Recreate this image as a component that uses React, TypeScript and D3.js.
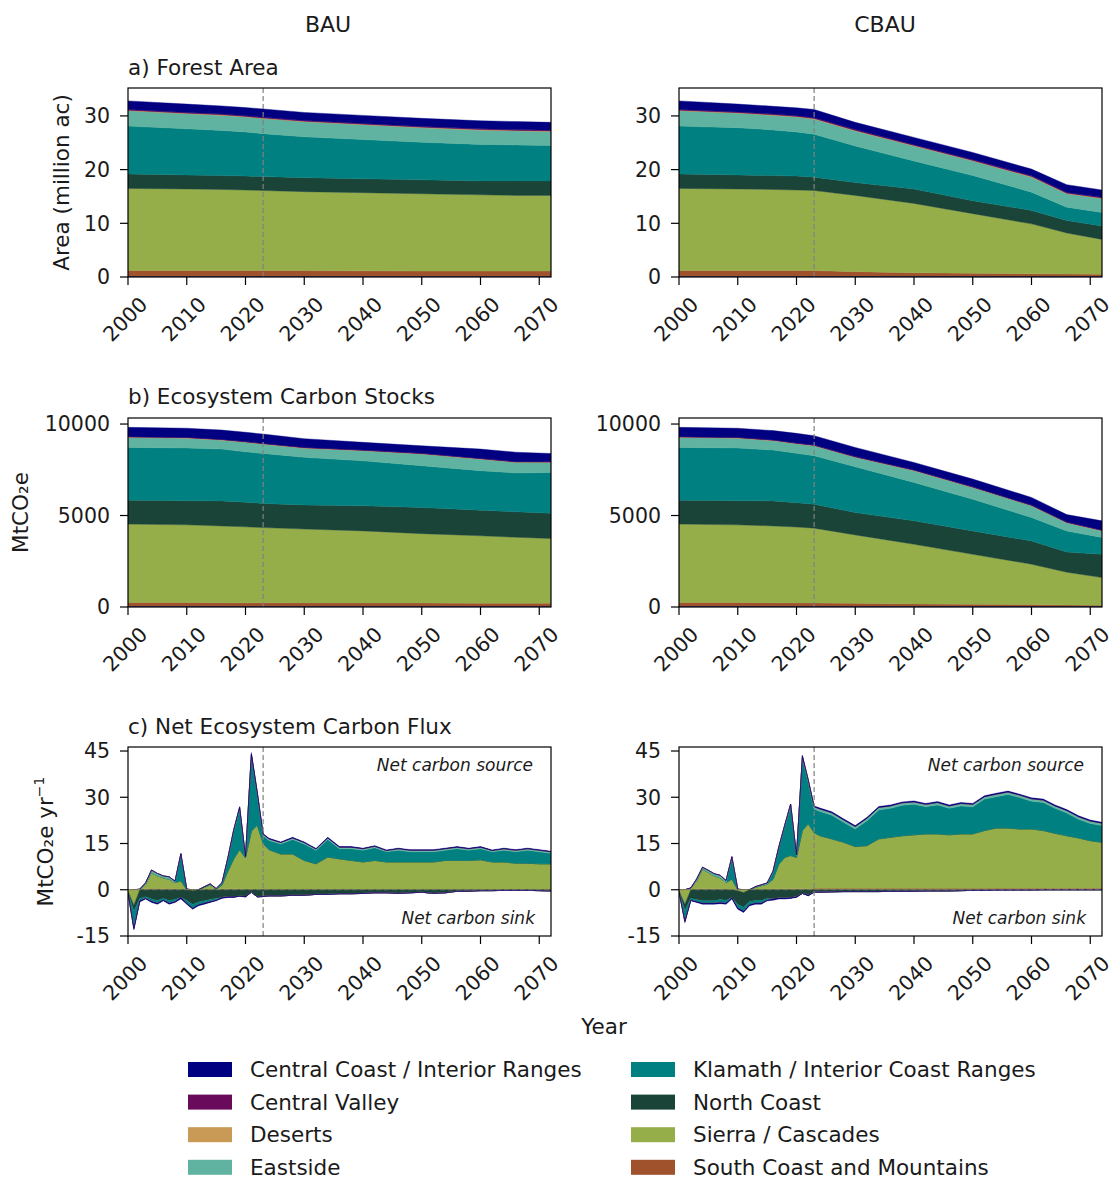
import * as d3 from "d3";

const regions = [
  "Central Coast / Interior Ranges",
  "Central Valley",
  "Deserts",
  "Eastside",
  "Klamath / Interior Coast Ranges",
  "North Coast",
  "Sierra / Cascades",
  "South Coast and Mountains",
];
const regionColors = ["#000080", "#6a0a5a", "#c89a55", "#5fb3a0", "#008080", "#1b4439", "#96ae4a", "#a0522d"];

const stockYears = [2000, 2010, 2016, 2020, 2023, 2030, 2040, 2050, 2060, 2066, 2072];
const fluxYears = [
  2000, 2001, 2002, 2003, 2004, 2005, 2006, 2007, 2008, 2009, 2010, 2011, 2012, 2013, 2014, 2015, 2016,
  2017, 2018, 2019, 2020, 2021, 2022, 2023, 2024, 2026, 2028, 2030, 2032, 2034, 2036, 2038, 2040, 2042,
  2044, 2046, 2048, 2050, 2052, 2054, 2056, 2058, 2060, 2062, 2064, 2066, 2068, 2070, 2072,
];
const xTicks = [2000, 2010, 2020, 2030, 2040, 2050, 2060, 2070];
const scenarioStart = 2023;

// a) forest area (million ac), BAU
const areaBauCentralCoast = [1.6, 1.55, 1.5, 1.5, 1.55, 1.5, 1.5, 1.5, 1.5, 1.5, 1.45];
const areaBauCentralValley = [0.15, 0.15, 0.15, 0.15, 0.15, 0.15, 0.15, 0.15, 0.15, 0.15, 0.15];
const areaBauDeserts = [0.1, 0.1, 0.1, 0.1, 0.1, 0.1, 0.1, 0.1, 0.1, 0.1, 0.1];
const areaBauEastside = [2.85, 2.8, 2.8, 2.8, 2.8, 2.8, 2.75, 2.7, 2.65, 2.6, 2.6];
const areaBauKlamath = [8.9, 8.6, 8.4, 8.2, 8.0, 7.6, 7.3, 7.0, 6.8, 6.7, 6.6];
const areaBauNorthCoast = [2.7, 2.6, 2.6, 2.6, 2.6, 2.6, 2.6, 2.6, 2.6, 2.7, 2.7];
const areaBauSierra = [15.3, 15.2, 15.1, 15.0, 14.9, 14.7, 14.55, 14.4, 14.2, 14.1, 14.1];
const areaBauSouthCoast = [1.2, 1.2, 1.2, 1.2, 1.2, 1.2, 1.15, 1.1, 1.1, 1.1, 1.1];

// a) forest area (million ac), CBAU
const areaCbauCentralCoast = [1.6, 1.45, 1.45, 1.45, 1.55, 1.35, 1.35, 1.35, 1.25, 1.45, 1.35];
const areaCbauCentralValley = [0.15, 0.15, 0.15, 0.15, 0.15, 0.15, 0.15, 0.15, 0.15, 0.15, 0.15];
const areaCbauDeserts = [0.1, 0.1, 0.1, 0.1, 0.1, 0.1, 0.1, 0.1, 0.1, 0.1, 0.1];
const areaCbauEastside = [2.85, 2.7, 2.7, 2.8, 2.8, 2.8, 2.8, 2.7, 2.8, 2.5, 2.6];
const areaCbauKlamath = [8.9, 8.8, 8.5, 8.2, 8.0, 6.8, 5.2, 4.7, 3.4, 2.5, 2.5];
const areaCbauNorthCoast = [2.7, 2.6, 2.6, 2.6, 2.5, 2.4, 2.7, 2.4, 2.5, 2.3, 2.5];
const areaCbauSierra = [15.3, 15.2, 15.1, 15.0, 14.9, 14.2, 12.9, 11.1, 9.3, 7.65, 6.5];
const areaCbauSouthCoast = [1.2, 1.2, 1.2, 1.2, 1.2, 1.0, 0.8, 0.7, 0.6, 0.55, 0.5];

// b) ecosystem carbon stocks (MtCO2e), BAU
const stockBauCentralCoast = [510, 500, 510, 510, 510, 480, 420, 410, 510, 515, 450];
const stockBauCentralValley = [20, 20, 20, 20, 20, 20, 20, 20, 20, 20, 20];
const stockBauDeserts = [20, 20, 20, 20, 20, 20, 20, 20, 20, 20, 20];
const stockBauEastside = [550, 540, 490, 520, 510, 500, 550, 640, 630, 580, 550];
const stockBauKlamath = [2880, 2880, 2830, 2750, 2730, 2600, 2460, 2280, 2160, 2120, 2220];
const stockBauNorthCoast = [1310, 1320, 1370, 1350, 1320, 1320, 1370, 1430, 1400, 1390, 1390];
const stockBauSierra = [4290, 4250, 4195, 4150, 4110, 4035, 3940, 3795, 3680, 3610, 3540];
const stockBauSouthCoast = [240, 240, 235, 230, 230, 225, 220, 215, 210, 205, 200];

// b) ecosystem carbon stocks (MtCO2e), CBAU
const stockCbauCentralCoast = [510, 500, 510, 530, 510, 500, 410, 420, 420, 410, 510];
const stockCbauCentralValley = [20, 20, 20, 20, 20, 20, 20, 20, 20, 20, 20];
const stockCbauDeserts = [20, 20, 20, 20, 20, 20, 20, 20, 20, 20, 20];
const stockCbauEastside = [550, 540, 510, 520, 540, 520, 640, 640, 640, 450, 360];
const stockCbauKlamath = [2880, 2880, 2780, 2700, 2650, 2500, 2100, 1730, 1280, 1150, 920];
const stockCbauNorthCoast = [1310, 1320, 1370, 1330, 1310, 1220, 1280, 1280, 1270, 1100, 1270];
const stockCbauSierra = [4290, 4250, 4195, 4145, 4090, 3740, 3260, 2730, 2210, 1790, 1510];
const stockCbauSouthCoast = [240, 240, 235, 225, 220, 200, 170, 150, 130, 110, 100];

// c) net ecosystem carbon flux (MtCO2e / yr), BAU
const fluxBauCentralCoast = [
  -0.1, -0.5, -0.4, -0.2, -0.3, -0.3, -0.2, -0.3, -0.2, -0.5, -0.3, -0.3, -0.3, -0.3, -0.2, -0.2, -0.3,
  -0.2, -0.2, 0.3, -0.2, 0.6, 0.3, 0.2, 0.2, 0.2, 0.2, 0.2, 0.2, 0.2, 0.2, 0.2, 0.2, 0.2, 0.2, 0.2, 0.2,
  0.2, 0.2, 0.2, 0.2, 0.2, 0.2, 0.2, 0.2, 0.2, 0.2, 0.2, 0.2,
];
const fluxBauCentralValley = [
  0, 0, 0, 0, 0, 0, 0, 0, 0, 0, 0, 0, 0, 0, 0, 0, 0, 0, 0, 0, 0, 0, 0, 0, 0, 0, 0, 0, 0, 0, 0, 0, 0, 0, 0,
  0, 0, 0, 0, 0, 0, 0, 0, 0, 0, 0, 0, 0, 0,
];
const fluxBauDeserts = [
  0, 0, 0, 0, 0, 0, 0, 0, 0, 0, 0, 0, 0, 0, 0, 0, 0, 0, 0, 0, 0, 0, 0, 0, 0, 0, 0, 0, 0, 0, 0, 0, 0, 0, 0,
  0, 0, 0, 0, 0, 0, 0, 0, 0, 0, 0, 0, 0, 0,
];
const fluxBauEastside = [
  0, 0, 0.2, 0.5, 0.8, 0.8, 0.6, 0.8, 0.5, 0.3, 0.2, 0, 0, 0.2, 0.3, 0.2, 0.3, 0.4, 0.5, 0.5, 0.3, 0.3,
  0.5, 0.5, 0.5, 0.5, 0.5, 0.5, 0.4, 0.5, 0.5, 0.5, 0.5, 0.5, 0.4, 0.5, 0.5, 0.5, 0.5, 0.5, 0.5, 0.5, 0.5,
  0.4, 0.5, 0.5, 0.5, 0.5, 0.5,
];
const fluxBauKlamath = [
  -0.2, -5.5, -0.8, -0.5, -0.8, -0.9, -0.6, -0.9, -0.7, 8.5, -0.9, -1.2, -0.9, -0.8, -0.7, -0.6, 0.5, 4,
  9, 13.2, 0.2, 24.6, 10, 2.5, 3, 3.2, 4.7, 5.3, 4.4, 5.7, 3.3, 3.8, 3.8, 4.1, 3.3, 3.8, 3.3, 3.3, 3.3,
  3.3, 3.8, 3.3, 3.6, 3.3, 3.8, 3.7, 4.2, 3.9, 3.4,
];
const fluxBauNorthCoast = [
  -0.3, -2, -2.8, -2.3, -3, -3.5, -2.8, -3.5, -3.2, -2.5, -3.5, -4.5, -4, -3.6, -3.2, -2.8, -2.5, -2.3,
  -2.3, -2.1, -2.2, -0.8, -2.3, -2.2, -2, -2, -1.8, -1.8, -1.5, -1.5, -1.3, -1.3, -1.2, -1, -1, -1.2, -1,
  -0.8, -1.2, -1, -0.5, -0.5, -0.3, -0.3, -0.2, -0.2, -0.2, -0.3, -0.4,
];
const fluxBauSierra = [
  -0.5, -5, 0, 1.5, 5.2, 4.1, 3.6, 3.0, 2.0, 2.9, 0, -0.3, 0, 0.7, 1.5, 0.1, 1.2, 5.7, 9.7, 12.7, 10.1,
  18.7, 20.8, 14.9, 12.9, 11.5, 11.5, 9.4, 8.3, 10.5, 9.9, 9.4, 8.9, 9.4, 8.9, 8.9, 8.9, 8.9, 8.9, 9.4,
  9.4, 9.4, 9.6, 8.9, 8.9, 8.5, 8.5, 8.3, 8.3,
];
const fluxBauSouthCoast = [
  0, 0, 0, 0.3, 0.4, 0.4, 0.3, 0.4, 0.3, 0, 0, 0, 0, 0.1, 0.1, 0.1, 0.3, 0.3, 0.3, 0.3, 0.2, 0.3, 0.2,
  0.1, 0.1, 0.1, 0.1, 0.1, 0.1, 0.1, 0.1, 0.1, 0.1, 0.1, 0.1, 0.1, 0.1, 0.1, 0.1, 0.1, 0.1, 0.1, 0.1, 0.1,
  0.1, 0.1, 0.1, 0.1, 0.1,
];

// c) net ecosystem carbon flux (MtCO2e / yr), CBAU
const fluxCbauCentralCoast = [
  0, -0.5, -0.2, -0.2, -0.3, -0.3, -0.3, -0.3, -0.3, -0.4, -0.3, -0.4, -0.3, -0.3, -0.3, -0.2, -0.4, -0.3,
  -0.3, -0.2, -0.2, 0.5, -0.2, 0.3, 0.3, 0.3, 0.3, 0.3, 0.3, 0.3, 0.3, 0.3, 0.3, 0.3, 0.3, 0.3, 0.3, 0.3,
  0.3, 0.3, 0.3, 0.3, 0.3, 0.3, 0.3, 0.3, 0.3, 0.3, 0.3,
];
const fluxCbauCentralValley = [
  0, 0, 0, 0, 0, 0, 0, 0, 0, 0, 0, 0, 0, 0, 0, 0, 0, 0, 0, 0, 0, 0, 0, 0, 0, 0, 0, 0, 0, 0, 0, 0, 0, 0, 0,
  0, 0, 0, 0, 0, 0, 0, 0, 0, 0, 0, 0, 0, 0,
];
const fluxCbauDeserts = [
  0, 0, 0, 0, 0, 0, 0, 0, 0, 0, 0, 0, 0, 0, 0, 0, 0, 0, 0, 0, 0, 0, 0, 0, 0, 0, 0, 0, 0, 0, 0, 0, 0, 0, 0,
  0, 0, 0, 0, 0, 0, 0, 0, 0, 0, 0, 0, 0, 0,
];
const fluxCbauEastside = [
  0, 0, 0.1, 0.6, 0.6, 0.7, 0.7, 0.8, 0.7, 0.5, 0.2, 0, 0, 0.2, 0.3, 0.4, 0.4, 0.4, 0.5, 0.6, 0.3, 0.5,
  0.7, 0.8, 0.8, 0.8, 0.8, 0.8, 0.8, 0.8, 0.8, 0.8, 0.8, 0.8, 0.8, 0.8, 0.8, 0.8, 0.8, 0.8, 0.8, 0.8, 0.8,
  0.8, 0.8, 0.8, 0.8, 0.8, 0.8,
];
const fluxCbauKlamath = [
  -0.1, -3.5, -0.6, -0.7, -0.8, -0.8, -0.8, -1, -1, 6.8, -1.2, -1.3, -1.1, -0.9, -0.9, -0.6, 2.2, 5.3, 10,
  16.1, 0.5, 23.5, 13.5, 7.6, 7.9, 7.7, 6.5, 5.7, 8.1, 9.4, 9.4, 9.9, 9.9, 8.8, 9.4, 8.6, 9.1, 8.8, 10.2,
  10.2, 10.9, 10.2, 9, 9.1, 8.1, 7.4, 6.1, 5.6, 5.4,
];
const fluxCbauNorthCoast = [
  -0.2, -2, -2.8, -3.2, -3.6, -3.6, -3.6, -3.2, -3.4, -2.6, -4.5, -4.8, -3.8, -3.5, -3.5, -2.8, -3, -2.7,
  -2.7, -2.6, -2.3, -1.2, -1.8, -0.8, -0.8, -0.7, -0.6, -0.6, -0.6, -0.6, -0.5, -0.5, -0.5, -0.4, -0.4,
  -0.4, -0.3, -0.2, -0.2, -0.1, -0.1, -0.1, -0.1, 0, 0, 0, 0, 0, 0,
];
const fluxCbauSierra = [
  -0.3, -4.7, 0.5, 2.6, 6.4, 5.3, 4.2, 3.6, 2.1, 3.4, -0.3, -0.9, 0, 0.7, 1.2, 1.6, 3.1, 8.0, 10.2, 10.8,
  10.2, 18.9, 21.1, 18, 17, 16, 14.9, 13.5, 13.8, 16, 16.5, 17, 17.3, 17.6, 17.6, 17.3, 17.6, 17.6, 18.7,
  19.5, 19.5, 19.2, 19.2, 18.7, 17.8, 17, 16.3, 15.4, 14.9,
];
const fluxCbauSouthCoast = [
  0, 0, 0, 0.3, 0.3, 0.3, 0.3, 0.3, 0.2, 0, 0, 0, 0, 0.1, 0.1, 0.2, 0.3, 0.3, 0.3, 0.3, 0.3, 0.3, 0.3,
  0.5, 0.5, 0.5, 0.5, 0.5, 0.5, 0.5, 0.5, 0.5, 0.5, 0.5, 0.5, 0.5, 0.5, 0.5, 0.5, 0.5, 0.5, 0.5, 0.5, 0.5,
  0.5, 0.5, 0.5, 0.5, 0.5,
];

type Panel = {
  years: number[];
  series: number[][]; // in legend order
  domain: [number, number];
  ticks: number[];
  zeroLine?: boolean;
};

const panels: Panel[][] = [
  [
    {
      years: stockYears,
      series: [areaBauCentralCoast, areaBauCentralValley, areaBauDeserts, areaBauEastside, areaBauKlamath, areaBauNorthCoast, areaBauSierra, areaBauSouthCoast],
      domain: [0, 35.2],
      ticks: [0, 10, 20, 30],
    },
    {
      years: stockYears,
      series: [areaCbauCentralCoast, areaCbauCentralValley, areaCbauDeserts, areaCbauEastside, areaCbauKlamath, areaCbauNorthCoast, areaCbauSierra, areaCbauSouthCoast],
      domain: [0, 35.2],
      ticks: [0, 10, 20, 30],
    },
  ],
  [
    {
      years: stockYears,
      series: [stockBauCentralCoast, stockBauCentralValley, stockBauDeserts, stockBauEastside, stockBauKlamath, stockBauNorthCoast, stockBauSierra, stockBauSouthCoast],
      domain: [0, 10330],
      ticks: [0, 5000, 10000],
    },
    {
      years: stockYears,
      series: [stockCbauCentralCoast, stockCbauCentralValley, stockCbauDeserts, stockCbauEastside, stockCbauKlamath, stockCbauNorthCoast, stockCbauSierra, stockCbauSouthCoast],
      domain: [0, 10330],
      ticks: [0, 5000, 10000],
    },
  ],
  [
    {
      years: fluxYears,
      series: [fluxBauCentralCoast, fluxBauCentralValley, fluxBauDeserts, fluxBauEastside, fluxBauKlamath, fluxBauNorthCoast, fluxBauSierra, fluxBauSouthCoast],
      domain: [-15, 46.3],
      ticks: [-15, 0, 15, 30, 45],
      zeroLine: true,
    },
    {
      years: fluxYears,
      series: [fluxCbauCentralCoast, fluxCbauCentralValley, fluxCbauDeserts, fluxCbauEastside, fluxCbauKlamath, fluxCbauNorthCoast, fluxCbauSierra, fluxCbauSouthCoast],
      domain: [-15, 46.3],
      ticks: [-15, 0, 15, 30, 45],
      zeroLine: true,
    },
  ],
];

const W = 1114;
const H = 1181;
const plotW = 423;
const plotH = 189;
const colLeft = [128, 679];
const rowTop = [88, 418, 747];
const font = "DejaVu Sans";
const tickLen = 8;
const tickFont = 20.5;
const labelFont = 21.5;
const ink = "#1a1a1a";

function StackPanel({ panel, left, top, id }: { panel: Panel; left: number; top: number; id: string }) {
  const x = d3.scaleLinear().domain([2000, 2072]).range([left, left + plotW]);
  const y = d3.scaleLinear().domain(panel.domain).range([top + plotH, top]);

  // bottom-to-top: reverse of legend order; positive parts stack up, negative parts stack down
  const keys = d3.range(panel.series.length).reverse();
  const rows = panel.years.map((_, j) => panel.series.map((s) => s[j]));
  const stackPart = (sign: 1 | -1) =>
    d3
      .stack<number[], number>()
      .keys(keys)
      .value((row, k) => (sign > 0 ? Math.max(row[k], 0) : Math.min(row[k], 0)))
      .offset(d3.stackOffsetNone)(rows);
  const layers = [...stackPart(1), ...stackPart(-1)];

  const area = d3
    .area<d3.SeriesPoint<number[]>>()
    .x((_, j) => x(panel.years[j]))
    .y0((d) => y(d[0]))
    .y1((d) => y(d[1]));

  return (
    <g>
      <defs>
        <clipPath id={id}>
          <rect x={left} y={top} width={plotW} height={plotH} />
        </clipPath>
      </defs>
      <g clipPath={`url(#${id})`}>
        {layers.map((layer, i) => (
          <path
            key={i}
            d={area(layer) ?? ""}
            fill={regionColors[layer.key as number]}
            stroke={regionColors[layer.key as number]}
            strokeWidth={0.4}
          />
        ))}
        {panel.zeroLine && (
          <line x1={left} x2={left + plotW} y1={y(0)} y2={y(0)} stroke="#808080" strokeWidth={1} strokeDasharray="5,3" opacity={0.7} />
        )}
        <line x1={x(scenarioStart)} x2={x(scenarioStart)} y1={top} y2={top + plotH} stroke="#808080" strokeWidth={1.2} strokeDasharray="5,3" />
      </g>
      <rect x={left} y={top} width={plotW} height={plotH} fill="none" stroke="#000" strokeWidth={1.2} />

      {panel.ticks.map((t) => (
        <g key={t}>
          <line x1={left - tickLen} x2={left} y1={y(t)} y2={y(t)} stroke="#000" strokeWidth={1.2} />
          <text x={left - 18} y={y(t)} dy="0.36em" textAnchor="end" fontSize={tickFont} fill={ink}>
            {t}
          </text>
        </g>
      ))}

      {xTicks.map((t) => (
        <g key={t}>
          <line x1={x(t)} x2={x(t)} y1={top + plotH} y2={top + plotH + tickLen} stroke="#000" strokeWidth={1.2} />
          <text
            transform={`translate(${x(t) - 3},${top + plotH + 42}) rotate(-45)`}
            textAnchor="middle"
            dy="0.36em"
            fontSize={tickFont}
            fill={ink}
          >
            {t}
          </text>
        </g>
      ))}

      {panel.zeroLine && (
        <>
          <text x={left + plotW - 18} y={top + 24} textAnchor="end" fontSize={17} fontStyle="italic" fill={ink}>
            Net carbon source
          </text>
          <text x={left + plotW - 16} y={top + 177} textAnchor="end" fontSize={17} fontStyle="italic" fill={ink}>
            Net carbon sink
          </text>
        </>
      )}
    </g>
  );
}

export default function App() {
  return (
    <div style={{ position: "absolute", left: 0, top: 0 }}>
      <svg width={W} height={H} fontFamily={font} style={{ display: "block", background: "#fff" }}>
        <rect width={W} height={H} fill="#fff" />

        <text x={328} y={32} textAnchor="middle" fontSize={22} fill={ink}>BAU</text>
        <text x={885} y={32} textAnchor="middle" fontSize={22} fill={ink}>CBAU</text>

        <text x={128} y={75} fontSize={labelFont} fill={ink}>a) Forest Area</text>
        <text x={128} y={404} fontSize={labelFont} fill={ink}>b) Ecosystem Carbon Stocks</text>
        <text x={128} y={734} fontSize={labelFont} fill={ink}>c) Net Ecosystem Carbon Flux</text>

        {panels.map((row, r) =>
          row.map((panel, c) => (
            <StackPanel key={`${r}-${c}`} id={`clip-${r}-${c}`} panel={panel} left={colLeft[c]} top={rowTop[r]} />
          ))
        )}

        <text transform={`translate(69,${rowTop[0] + plotH / 2}) rotate(-90)`} textAnchor="middle" fontSize={labelFont} fill={ink}>
          Area (million ac)
        </text>
        <text transform={`translate(28,${rowTop[1] + plotH / 2}) rotate(-90)`} textAnchor="middle" fontSize={labelFont} fill={ink}>
          MtCO₂e
        </text>
        <text transform={`translate(53,${rowTop[2] + plotH / 2}) rotate(-90)`} textAnchor="middle" fontSize={labelFont} fill={ink}>
          MtCO₂e yr<tspan dy="-9" fontSize={14}>−1</tspan>
        </text>

        <text x={604} y={1034} textAnchor="middle" fontSize={labelFont} fill={ink}>Year</text>

        {regions.map((name, i) => {
          const col = Math.floor(i / 4);
          const row = i % 4;
          const lx = col === 0 ? 188 : 631;
          const ly = 1069.5 + row * 32.6;
          return (
            <g key={name}>
              <rect x={lx} y={ly - 7.5} width={44} height={15} fill={regionColors[i]} />
              <text x={lx + 62} y={ly} dy="0.36em" fontSize={21.5} fill={ink}>
                {name}
              </text>
            </g>
          );
        })}
      </svg>
    </div>
  );
}
